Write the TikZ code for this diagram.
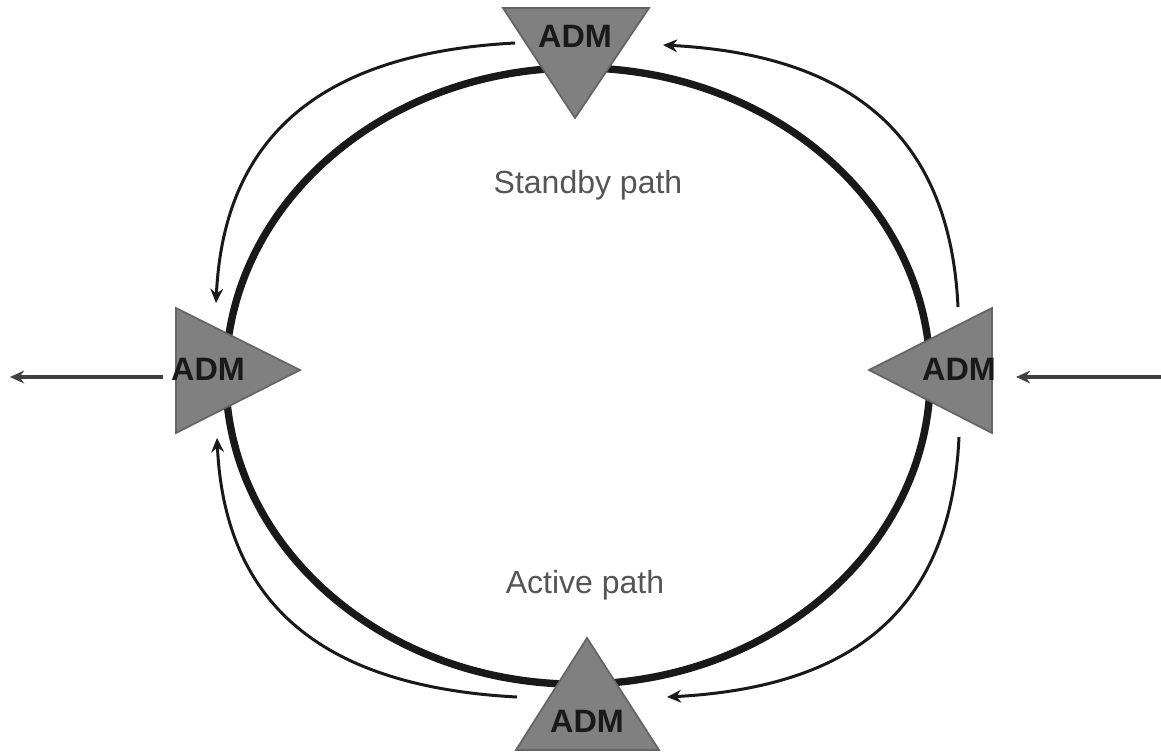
\documentclass[tikz,border=0pt]{standalone}
\usepackage{fontspec}
\setmainfont{Liberation Sans}
\usetikzlibrary{arrows.meta}
\definecolor{admgray}{RGB}{128,128,128}
\definecolor{admedge}{RGB}{100,100,100}
\definecolor{labelgray}{RGB}{85,85,85}
\definecolor{ringblack}{RGB}{25,25,25}

\begin{document}
\begin{tikzpicture}
  [x=0.01cm,y=-0.01cm,
   adm/.style={fill=admgray,draw=admedge,line width=0.5pt},
   admtext/.style={font=\fontsize{9.2}{11}\selectfont\bfseries,text=ringblack,anchor=base,inner sep=0pt},
   pathtext/.style={font=\fontsize{9.1}{11}\selectfont,text=labelgray,anchor=base,inner sep=0pt},
   flow/.style={line width=0.85pt,draw=ringblack,-{Stealth[length=4pt,width=3.6pt]}},
   feed/.style={line width=1pt,draw=black!75,-{Stealth[length=4pt,width=3.6pt]}}]
  \useasboundingbox (0,0) rectangle (1161,751);

  % ring
  \draw [line width=2.1pt,ringblack] (578,376) ellipse [x radius=3.52cm,y radius=3.08cm];

  % ADM triangles
  \path [adm] (503,8) -- (649,8) -- (575,118) -- cycle;
  \path [adm] (176,308) -- (176,433) -- (300,370) -- cycle;
  \path [adm] (992,308) -- (992,433) -- (869,370) -- cycle;
  \path [adm] (516,750) -- (659,750) -- (587,638) -- cycle;

  \node [admtext] (admT) at (575,47) {ADM};
  \node [admtext] (admL) at (208,380) {ADM};
  \node [admtext] (admR) at (959,380) {ADM};
  \node [admtext] (admB) at (587,732) {ADM};

  \node [pathtext] (standby) at (588,193) {Standby path};
  \node [pathtext] (active) at (585,593) {Active path};

  \coordinate (topW) at (515,43);
  \coordinate (topE) at (663,45);
  \coordinate (leftN) at (216,303);
  \coordinate (leftS) at (217,438);
  \coordinate (rightN) at (958,307);
  \coordinate (rightS) at (959,437);
  \coordinate (botW) at (517,697);
  \coordinate (botE) at (667,697);
  \coordinate (leftW) at (163,377);
  \coordinate (outW) at (10,377);
  \coordinate (inE) at (1161,377);
  \coordinate (rightE) at (1016,377);

  % protection arcs
  \draw [flow] (topW) .. controls +(-190,10) and +(8,-170) .. (leftN);
  \draw [flow] (botW) .. controls +(-190,-10) and +(8,170) .. (leftS);
  \draw [flow] (rightN) .. controls +(-8,-170) and +(190,10) .. (topE);
  \draw [flow] (rightS) .. controls +(-8,170) and +(190,-10) .. (botE);

  \foreach \from/\to in {leftW/outW, inE/rightE}
    \draw [feed] (\from) -- (\to);

\end{tikzpicture}
\end{document}
